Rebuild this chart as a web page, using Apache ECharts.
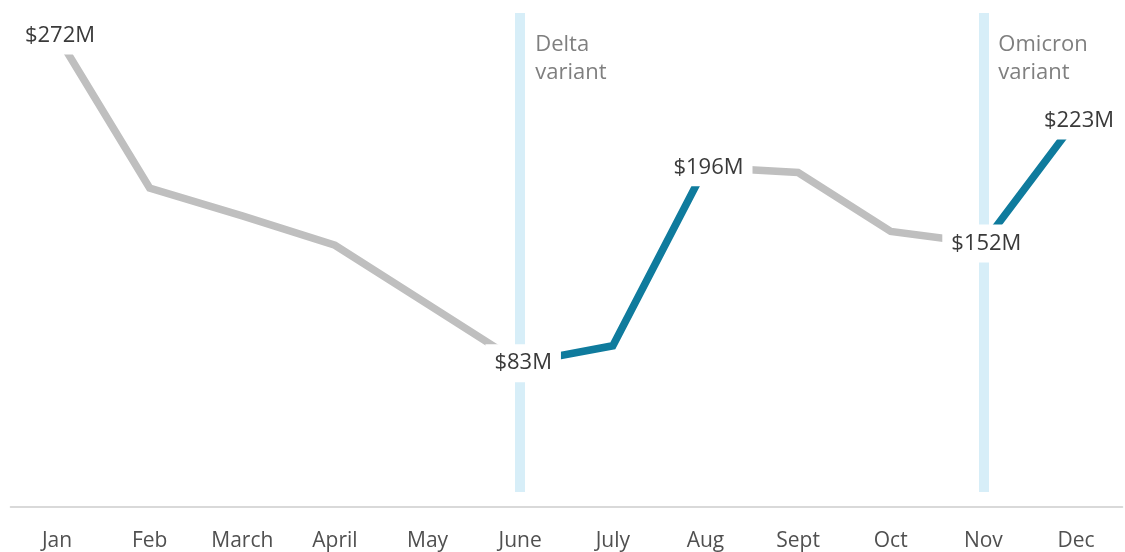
<!DOCTYPE html>
<html>
<head>
<meta charset="utf-8">
<script src="https://cdn.jsdelivr.net/npm/echarts@6/dist/echarts.min.js"></script>
<style>
html,body{margin:0;padding:0;background:#fff;}
#chart{width:1125px;height:552px;}
</style>
</head>
<body>
<div id="chart"></div>
<script>
// ---- data ----
const months = ['Jan','Feb','March','April','May','June','July','Aug','Sept','Oct','Nov','Dec'];
const revenue = [272, 184, 168, 151, 117, 83, 93, 196, 193, 159, 152, 223]; // $M
// highlighted (surge) periods: [start, end]
const surgeSegments = [['June','Aug'], ['Nov','Dec']];
const labeledMonths = ['Jan','June','Aug','Nov','Dec'];
const variantMonths = ['June','Nov'];
const variantNames = ['Delta\nvariant', 'Omicron\nvariant'];

// ---- build series data ----
const idx = m => months.indexOf(m);
const inSurge = i => surgeSegments.some(([a,b]) => i >= idx(a) && i <= idx(b));
const grayLine = revenue.map((v,i) => {
  for (const [a,b] of surgeSegments) {
    if (i > idx(a) && i < idx(b)) return '-';
    if (i === idx(b) && idx(b) === months.length - 1) return '-';
  }
  return v;
});
const blueLine = revenue.map((v,i) => inSurge(i) ? v : '-');
const labelData = labeledMonths.map(m => [m, revenue[idx(m)]]);

const FONT = "'Open Sans', 'Noto Sans', sans-serif";
const YMAX = 285;
const BAND_BOTTOM = 8.7;
const ANNOT_Y = 258.5;

const chart = echarts.init(document.getElementById('chart'), null, {renderer:'canvas'});
chart.setOption({
  animation: false,
  backgroundColor: '#fff',
  grid: {left: 10.7, right: 2.7, top: 13, bottom: 45, containLabel: false},
  xAxis: {
    type: 'category',
    data: months,
    boundaryGap: true,
    axisLine: {show: true, lineStyle: {color: '#d9d9d9', width: 2}},
    axisTick: {show: false},
    axisLabel: {fontSize: 21, color: '#505050', fontFamily: FONT, margin: 24, interval: 0}
  },
  yAxis: {
    type: 'value', min: 0, max: YMAX, show: false, splitLine: {show: false}
  },
  series: [
    {
      name: 'bands', type: 'line', data: [], z: 1, silent: true,
      markLine: {
        silent: true, symbol: 'none', animation: false,
        label: {show: false},
        lineStyle: {color: '#d7eef8', width: 10, type: 'solid', opacity: 1},
        emphasis: {disabled: true},
        data: variantMonths.map(m => [{coord: [m, BAND_BOTTOM]}, {coord: [m, YMAX]}])
      }
    },
    {
      name: 'base', type: 'line', data: grayLine, z: 2, symbol: 'none',
      connectNulls: false,
      lineStyle: {color: '#bfbfbf', width: 7.5, cap: 'butt', join: 'miter'}
    },
    {
      name: 'surge', type: 'line', data: blueLine, z: 3, symbol: 'none',
      connectNulls: false,
      lineStyle: {color: '#0f7b9d', width: 7.5, cap: 'butt', join: 'miter'}
    },
    {
      name: 'labels', type: 'scatter', data: labelData, z: 10, symbolSize: 0,
      silent: true,
      itemStyle: {opacity: 1},
      label: {
        show: true, position: 'inside', offset: [3, 0],
        formatter: p => '$' + p.value[1] + 'M',
        fontSize: 22, color: '#3a3a3a', fontFamily: FONT,
        backgroundColor: '#fff', padding: [8, 9]
      }
    },
    {
      name: 'annotations', type: 'scatter', z: 10, symbolSize: 0, silent: true,
      itemStyle: {opacity: 1},
      data: variantMonths.map((m,i) => ({value: [m, ANNOT_Y], name: variantNames[i]})),
      label: {
        show: true, position: 'right', distance: 15,
        formatter: p => p.name,
        fontSize: 22, lineHeight: 28, color: '#7f7f7f', fontFamily: FONT, align: 'left'
      }
    }
  ]
});
</script>
</body>
</html>
